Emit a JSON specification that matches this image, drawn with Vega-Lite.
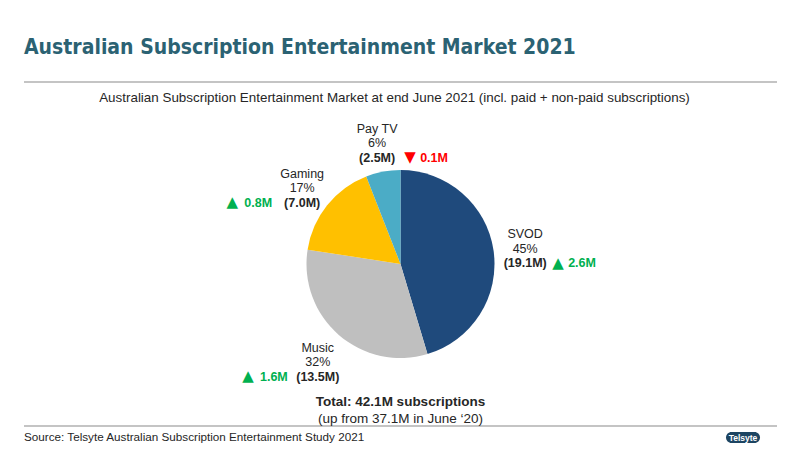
{
  "$schema": "https://vega.github.io/schema/vega-lite/v6.json",
  "width": 753,
  "height": 344,
  "autosize": {"type": "none"},
  "padding": {"left": 24, "top": 82, "right": 23, "bottom": 24},
  "background": "white",
  "title": {
    "text": "Australian Subscription Entertainment Market 2021",
    "anchor": "start",
    "frame": "group",
    "font": "DejaVu Sans Condensed, Liberation Sans",
    "fontSize": 21,
    "fontWeight": "bold",
    "color": "#2b6273",
    "offset": 23
  },
  "config": {
    "view": {"stroke": null},
    "font": "Liberation Sans",
    "text": {"font": "Liberation Sans", "fontSize": 12.5, "color": "#262626"}
  },
  "datasets": {
    "slices": [
      {"segment": "SVOD", "subs": 19.1, "share": 0.45, "change": 2.6},
      {"segment": "Music", "subs": 13.5, "share": 0.32, "change": 1.6},
      {"segment": "Gaming", "subs": 7.0, "share": 0.17, "change": 0.8},
      {"segment": "Pay TV", "subs": 2.5, "share": 0.06, "change": -0.1}
    ],
    "notes": [
      {"subtitle": "Australian Subscription Entertainment Market at end June 2021 (incl. paid + non-paid subscriptions)",
       "total": "Total: 42.1M subscriptions",
       "previous": "(up from 37.1M in June ‘20)",
       "source": "Source: Telsyte Australian Subscription Entertainment Study 2021",
       "logo": "Telsyte"}
    ]
  },
  "layer": [
    {
      "data": {"name": "notes"},
      "mark": {"type": "rule", "color": "#c4c4c4", "strokeWidth": 2},
      "encoding": {"y": {"value": 0}}
    },
    {
      "data": {"name": "notes"},
      "mark": {"type": "rule", "color": "#c4c4c4", "strokeWidth": 2},
      "encoding": {"y": {"value": 344}}
    },
    {
      "data": {"name": "slices"},
      "mark": {"type": "arc", "outerRadius": 94, "yOffset": 10},
      "encoding": {
        "theta": {"field": "subs", "type": "quantitative", "stack": true},
        "order": {"field": "subs", "sort": "descending"},
        "color": {
          "field": "segment",
          "type": "nominal",
          "scale": {"domain": ["SVOD", "Music", "Gaming", "Pay TV"], "range": ["#1f4a7c", "#bfbfbf", "#ffc000", "#4bacc6"]},
          "legend": null
        }
      }
    },
    {
      "data": {"name": "slices"},
      "mark": {"type": "text", "radius": 126, "yOffset": 13, "dy": -14.5, "baseline": "middle"},
      "encoding": {
        "theta": {"field": "subs", "type": "quantitative", "stack": true},
        "order": {"field": "subs", "sort": "descending"},
        "text": {"field": "segment"}
      }
    },
    {
      "data": {"name": "slices"},
      "mark": {"type": "text", "radius": 126, "yOffset": 13, "dy": 0, "baseline": "middle"},
      "encoding": {
        "theta": {"field": "subs", "type": "quantitative", "stack": true},
        "order": {"field": "subs", "sort": "descending"},
        "text": {"field": "share", "format": ".0%"}
      }
    },
    {
      "data": {"name": "slices"},
      "transform": [{"calculate": "'(' + format(datum.subs, '.1f') + 'M)'", "as": "valueLabel"}],
      "mark": {"type": "text", "radius": 126, "yOffset": 13, "dy": 14.5, "baseline": "middle", "fontWeight": "bold"},
      "encoding": {
        "theta": {"field": "subs", "type": "quantitative", "stack": true},
        "order": {"field": "subs", "sort": "descending"},
        "text": {"field": "valueLabel"}
      }
    },
    {
      "data": {"name": "slices"},
      "transform": [{"calculate": "(datum.segment == 'SVOD' || datum.segment == 'Pay TV') ? (datum.change >= 0 ? '▲' : '▼') : ''", "as": "arrow"}],
      "mark": {"type": "text", "radius": 126, "yOffset": 13, "dy": 14, "dx": 27, "align": "left", "baseline": "middle", "fontSize": 15, "font": "DejaVu Sans"},
      "encoding": {
        "theta": {"field": "subs", "type": "quantitative", "stack": true},
        "order": {"field": "subs", "sort": "descending"},
        "text": {"field": "arrow"},
        "color": {"condition": {"test": "datum.change < 0", "value": "#ff0000"}, "value": "#00b050"}
      }
    },
    {
      "data": {"name": "slices"},
      "transform": [{"calculate": "(datum.segment == 'SVOD' || datum.segment == 'Pay TV') ? (format(abs(datum.change), '.1f') + 'M') : ''", "as": "deltaLabel"}],
      "mark": {"type": "text", "radius": 126, "yOffset": 13, "dy": 14.5, "dx": 43, "align": "left", "baseline": "middle", "fontWeight": "bold"},
      "encoding": {
        "theta": {"field": "subs", "type": "quantitative", "stack": true},
        "order": {"field": "subs", "sort": "descending"},
        "text": {"field": "deltaLabel"},
        "color": {"condition": {"test": "datum.change < 0", "value": "#ff0000"}, "value": "#00b050"}
      }
    },
    {
      "data": {"name": "slices"},
      "transform": [{"calculate": "(datum.segment == 'Music' || datum.segment == 'Gaming') ? (format(abs(datum.change), '.1f') + 'M') : ''", "as": "deltaLabel"}],
      "mark": {"type": "text", "radius": 126, "yOffset": 13, "dy": 14.5, "dx": -30, "align": "right", "baseline": "middle", "fontWeight": "bold"},
      "encoding": {
        "theta": {"field": "subs", "type": "quantitative", "stack": true},
        "order": {"field": "subs", "sort": "descending"},
        "text": {"field": "deltaLabel"},
        "color": {"condition": {"test": "datum.change < 0", "value": "#ff0000"}, "value": "#00b050"}
      }
    },
    {
      "data": {"name": "slices"},
      "transform": [{"calculate": "(datum.segment == 'Music' || datum.segment == 'Gaming') ? (datum.change >= 0 ? '▲' : '▼') : ''", "as": "arrow"}],
      "mark": {"type": "text", "radius": 126, "yOffset": 13, "dy": 14, "dx": -64, "align": "right", "baseline": "middle", "fontSize": 15, "font": "DejaVu Sans"},
      "encoding": {
        "theta": {"field": "subs", "type": "quantitative", "stack": true},
        "order": {"field": "subs", "sort": "descending"},
        "text": {"field": "arrow"},
        "color": {"condition": {"test": "datum.change < 0", "value": "#ff0000"}, "value": "#00b050"}
      }
    },
    {
      "data": {"name": "notes"},
      "mark": {"type": "text", "x": {"expr": "width / 2 - 6"}, "y": 16, "align": "center", "baseline": "middle", "fontSize": 13.4},
      "encoding": {"text": {"field": "subtitle"}}
    },
    {
      "data": {"name": "notes"},
      "mark": {"type": "text", "x": {"expr": "width / 2"}, "y": 320, "align": "center", "baseline": "middle", "fontSize": 13.5, "fontWeight": "bold"},
      "encoding": {"text": {"field": "total"}}
    },
    {
      "data": {"name": "notes"},
      "mark": {"type": "text", "x": {"expr": "width / 2"}, "y": 336.5, "align": "center", "baseline": "middle", "fontSize": 13.5},
      "encoding": {"text": {"field": "previous"}}
    },
    {
      "data": {"name": "notes"},
      "mark": {"type": "text", "x": 0, "y": {"expr": "height + 11"}, "align": "left", "baseline": "middle", "fontSize": 11.7},
      "encoding": {"text": {"field": "source"}}
    },
    {
      "data": {"name": "notes"},
      "mark": {"type": "rect", "x": 702, "x2": 736, "y": 350, "y2": 361, "cornerRadius": 5.5, "color": "#1d4562"},
      "encoding": {}
    },
    {
      "data": {"name": "notes"},
      "mark": {"type": "text", "x": 719, "y": 355.5, "align": "center", "baseline": "middle", "fontSize": 8.5, "fontWeight": "bold", "color": "white"},
      "encoding": {"text": {"field": "logo"}}
    }
  ]
}
